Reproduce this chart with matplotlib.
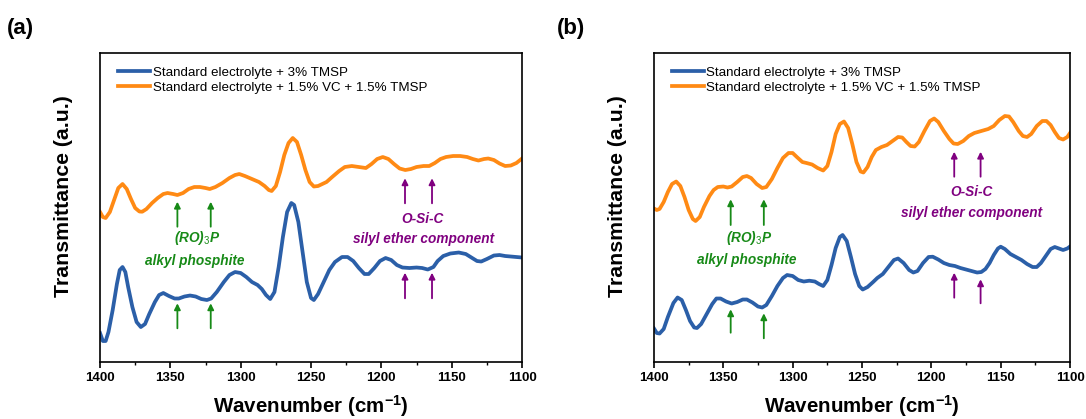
import numpy as np
import matplotlib.pyplot as plt
from matplotlib.ticker import MultipleLocator

plt.rcParams["font.family"] = ["Liberation Sans", "DejaVu Sans"]
plt.rcParams["mathtext.fontset"] = "custom"
plt.rcParams["mathtext.rm"] = "Liberation Sans"
plt.rcParams["mathtext.it"] = "Liberation Sans:style=italic:weight=bold"
plt.rcParams["mathtext.bf"] = "Liberation Sans:weight=bold"

# ---- panel (a) ----
a_orange_x = [1400, 1398, 1396, 1393, 1390, 1387, 1384, 1381, 1378, 1375, 1372, 1370, 1367, 1363, 1359, 1355,
              1352, 1348, 1345, 1341, 1337, 1333, 1329, 1325, 1322, 1318, 1313, 1308, 1304, 1301, 1297, 1292,
              1287, 1283, 1280, 1278, 1275, 1272, 1269, 1266, 1263, 1260, 1257, 1254, 1251, 1248, 1245, 1242,
              1239, 1235, 1230, 1226, 1221, 1216, 1211, 1207, 1203, 1199, 1195, 1191, 1187, 1183, 1179, 1175,
              1170, 1166, 1162, 1158, 1154, 1149, 1144, 1139, 1135, 1131, 1127, 1124, 1120, 1116, 1112, 1108,
              1104, 1100]
a_orange_y = [150, 145, 144, 150, 162, 174, 178, 173, 163, 154, 150.5, 150.3, 153, 159, 164, 168,
              169, 168, 167, 169, 173, 175, 175, 174, 173, 175, 179, 184, 187, 188, 186, 183,
              180, 176, 172, 171, 176, 190, 207, 219, 224, 220, 207, 192, 180, 175.5, 176, 178,
              180, 185, 191, 195, 196, 195, 194, 198, 203, 205, 203, 198, 193.5, 192, 193, 195,
              196, 196, 199, 203, 205, 206, 206, 205, 203, 201.5, 203, 203.5, 202, 198.5, 196, 196.5,
              199, 203.5]

a_blue_x = [1400, 1398, 1396, 1394, 1391, 1388, 1386, 1384, 1382, 1380, 1377, 1374, 1371, 1368, 1365, 1361,
            1358, 1355, 1351, 1347, 1344, 1340, 1336, 1332, 1328, 1324, 1321, 1317, 1312, 1308, 1304, 1300,
            1296, 1292, 1288, 1285, 1282, 1279, 1276, 1273, 1270, 1267, 1264, 1262, 1259, 1256, 1253, 1250,
            1248, 1245, 1241, 1237, 1233, 1228, 1224, 1220, 1216, 1212, 1209, 1205, 1201, 1197, 1193, 1189,
            1185, 1180, 1175, 1171, 1167, 1163, 1160, 1156, 1151, 1145, 1140, 1136, 1132, 1129, 1125, 1120,
            1116, 1112, 1108, 1104, 1100]
a_blue_y = [29, 21, 21, 30, 52, 78, 92, 95, 90, 75, 55, 40, 35, 38, 48, 60,
            67, 69, 66, 63.5, 63.5, 65.5, 66.5, 65.5, 63, 62, 63.5, 70, 80, 87, 90, 89,
            85, 80, 77, 73, 67, 63, 70, 95, 125, 150, 159, 157, 140, 110, 80, 64,
            62, 68, 80, 92, 100, 105, 105, 101, 94, 88, 88, 94, 101, 104, 102, 97,
            94.5, 94, 94.5, 94, 92.5, 95, 101, 106, 108.5, 109.5, 108, 104.5, 101, 100.5, 103, 106.5,
            107, 106, 105.5, 105, 104.5]

# ---- panel (b) ----
b_orange_x = [1400, 1398, 1396, 1393, 1390, 1387, 1384, 1381, 1378, 1375, 1372, 1370, 1367, 1364, 1360, 1357,
              1354, 1350, 1347, 1344, 1340, 1336, 1333, 1330, 1326, 1322, 1319, 1315, 1311, 1307, 1303, 1300,
              1297, 1293, 1290, 1286, 1282, 1278, 1275, 1272, 1269, 1266, 1263, 1260, 1257, 1254, 1251, 1249,
              1246, 1243, 1240, 1236, 1232, 1228, 1224, 1221, 1218, 1215, 1212, 1209, 1205, 1201, 1198, 1195,
              1191, 1187, 1184, 1181, 1177, 1173, 1169, 1164, 1159, 1155, 1151, 1147, 1144, 1141, 1137, 1134,
              1131, 1128, 1124, 1120, 1117, 1114, 1111, 1108, 1105, 1102, 1100]
b_orange_y = [153.5, 152, 153, 160, 170, 178, 180.5, 176, 165, 152, 143, 141, 145, 155, 166, 172,
              175, 175.5, 174.5, 175.5, 180, 185, 186, 184, 178, 174, 175, 183, 194, 204, 209, 209,
              205, 200, 199, 197.5, 194, 191.5, 196, 210, 228, 238, 240.5, 234, 218, 200, 190.5, 189.5,
              195, 205, 212, 215, 217, 221, 225, 224.5, 220, 216, 215.5, 220, 231, 241, 243.5, 240,
              231, 223, 218.5, 218, 221, 226, 229, 231, 233, 236, 242, 246, 245.5, 240, 231, 226,
              225, 228, 236, 241, 241, 237, 230, 224, 222.5, 225, 229]

b_blue_x = [1400, 1398, 1396, 1393, 1390, 1386, 1383, 1380, 1377, 1374, 1371, 1369, 1366, 1362, 1358, 1355,
            1352, 1348, 1344, 1340, 1336, 1333, 1329, 1325, 1322, 1319, 1315, 1311, 1307, 1304, 1300, 1296,
            1292, 1288, 1284, 1281, 1278, 1275, 1272, 1269, 1266, 1264, 1261, 1258, 1255, 1252, 1249.5, 1246,
            1242, 1239, 1235, 1231, 1227, 1224, 1220, 1216, 1213, 1210, 1206, 1202, 1199, 1195, 1191, 1187,
            1183, 1179, 1175, 1171, 1167, 1164, 1161, 1158, 1155, 1152, 1150, 1147, 1143, 1139, 1135, 1131,
            1127, 1124, 1121, 1117, 1114, 1111, 1108, 1105, 1102, 1100]
b_blue_y = [33.5, 29, 28.5, 33, 45, 59, 64.5, 62, 52, 41, 34.5, 34, 38, 48, 58, 63.5,
            63.5, 60.5, 58.5, 60, 62.5, 62.5, 59.5, 55.5, 54.5, 57, 66, 76, 84, 87, 86, 82,
            80.5, 81.3, 80.5, 78, 76, 82, 97, 114, 125, 127, 121, 105, 88, 76, 72.5, 75,
            80, 84, 88, 95, 102, 103.5, 99, 92, 89.5, 91, 99, 105, 105.3, 102.5, 99, 97,
            96, 94, 92.5, 91, 89.5, 90, 93, 99, 107, 113.5, 115.3, 113, 108, 105, 102, 98,
            95, 95, 99, 107, 113, 115, 113.5, 112, 113.5, 115.5]

legend_labels = ["Standard electrolyte + 3% TMSP", "Standard electrolyte + 1.5% VC + 1.5% TMSP"]

# arrow positions (wavenumber)
a_green_x = [1345, 1321.3]
a_purple_x = [1183.2, 1164]
b_green_x = [1344.7, 1320.8]
b_purple_x = [1183.5, 1164.5]

blue = "#2b5fa8"
orange = "#ff8a14"
green = "#178a17"
purple = "#800080"

fig = plt.figure(figsize=(10.86, 4.19), dpi=100)
ax1 = fig.add_axes([0.0921, 0.136, 0.3886, 0.7375])
ax2 = fig.add_axes([0.6022, 0.136, 0.3831, 0.7375])


def arrow(ax, x, y0, y1, c):
    ax.annotate("", xy=(x, y1), xytext=(x, y0),
                arrowprops=dict(arrowstyle="-|>", color=c, lw=1.3, mutation_scale=9, shrinkA=0, shrinkB=0))


def setup(ax):
    ax.set_xlim(1400, 1100)
    ax.set_ylim(0, 309)
    ax.xaxis.set_major_locator(MultipleLocator(50))
    ax.xaxis.set_minor_locator(MultipleLocator(25))
    ax.set_yticks([])
    ax.tick_params(axis="x", which="major", length=4.5, width=1.2, direction="out", labelsize=9.5, pad=3)
    ax.tick_params(axis="x", which="minor", length=2.5, width=1.0, direction="out")
    for t in ax.get_xticklabels():
        t.set_fontweight("bold")
    for s in ax.spines.values():
        s.set_linewidth(1.2)
    ax.set_xlabel("Wavenumber (cm$^{\\mathbf{-1}}$)", fontsize=14.8, fontweight="bold", labelpad=6)
    ax.set_ylabel("Transmittance (a.u.)", fontsize=15.3, fontweight="bold")
    ax.yaxis.set_label_coords(-0.063, 0.537)
    leg = ax.legend(loc="upper left", bbox_to_anchor=(0.030, 0.974), frameon=False, fontsize=9.6,
                    handlelength=2.4, handletextpad=0.2, labelspacing=0.2, borderaxespad=0)
    return leg


# panel (a)
ax1.plot(a_blue_x, a_blue_y, color=blue, lw=2.7, label=legend_labels[0])
ax1.plot(a_orange_x, a_orange_y, color=orange, lw=2.7, label=legend_labels[1])
setup(ax1)
for x in a_green_x:
    arrow(ax1, x, 135.3, 160.3, green)
    arrow(ax1, x, 33.7, 58.7, green)
for x in a_purple_x:
    arrow(ax1, x, 158.7, 183.7, purple)
    arrow(ax1, x, 63.7, 89.3, purple)
ax1.text(1331, 123.7, "(RO)$_{\\mathit{3}}$P", color=green, fontsize=9.8, fontweight="bold", style="italic", ha="center", va="center")
ax1.text(1333, 101, "alkyl phosphite", color=green, fontsize=9.8, fontweight="bold", style="italic", ha="center", va="center")
ax1.text(1170.4, 143, "O-Si-C", color=purple, fontsize=9.8, fontweight="bold", style="italic", ha="center", va="center")
ax1.text(1170, 122.7, "silyl ether component", color=purple, fontsize=9.8, fontweight="bold", style="italic", ha="center", va="center")

# panel (b)
ax2.plot(b_blue_x, b_blue_y, color=blue, lw=2.7, label=legend_labels[0])
ax2.plot(b_orange_x, b_orange_y, color=orange, lw=2.7, label=legend_labels[1])
setup(ax2)
ax2.yaxis.set_label_coords(-0.064, 0.537)
arrow(ax2, b_green_x[0], 137, 162.7, green)
arrow(ax2, b_green_x[1], 137, 162.7, green)
arrow(ax2, b_green_x[0], 29.3, 52.7, green)
arrow(ax2, b_green_x[1], 23.7, 48.7, green)
arrow(ax2, b_purple_x[0], 185.3, 210.3, purple)
arrow(ax2, b_purple_x[1], 185.3, 210.3, purple)
arrow(ax2, b_purple_x[0], 64.3, 89.3, purple)
arrow(ax2, b_purple_x[1], 58.7, 82.7, purple)
ax2.text(1331, 124.3, "(RO)$_{\\mathit{3}}$P", color=green, fontsize=9.8, fontweight="bold", style="italic", ha="center", va="center")
ax2.text(1333, 102, "alkyl phosphite", color=green, fontsize=9.8, fontweight="bold", style="italic", ha="center", va="center")
ax2.text(1171, 170.3, "O-Si-C", color=purple, fontsize=9.8, fontweight="bold", style="italic", ha="center", va="center")
ax2.text(1171, 148.7, "silyl ether component", color=purple, fontsize=9.8, fontweight="bold", style="italic", ha="center", va="center")

fig.text(0.0064, 0.931, "(a)", fontsize=16, fontweight="bold", ha="left", va="center")
fig.text(0.5125, 0.931, "(b)", fontsize=16, fontweight="bold", ha="left", va="center")

fig.savefig("out.png", dpi=100)
